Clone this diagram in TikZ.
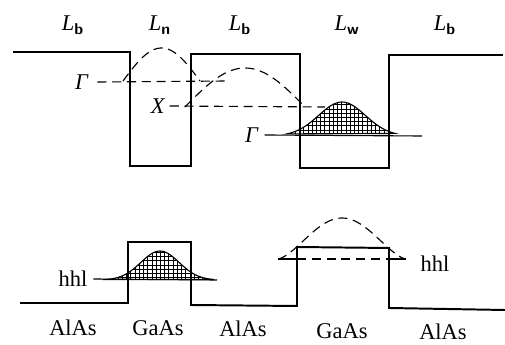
\documentclass[tikz,border=0pt]{standalone}
\usepackage{fontspec}
\setmainfont{Liberation Serif}
\usepackage{tikz}
\usetikzlibrary{patterns}

\begin{document}
\begin{tikzpicture}[x=0.25mm, y=-0.25mm,
    band/.style={line width=1.4pt, line join=miter},
    level/.style={line width=0.8pt},
    wave/.style={line width=0.8pt, dash pattern=on 6.5pt off 4pt},
    dens/.style={line width=0.8pt, pattern=grid},
    lab/.style={font=\fontsize{16}{18}\selectfont, inner sep=0pt}]
  \useasboundingbox (0,0) rectangle (505,345);

  % layer widths
  \node[lab] (lb1) at (73,25)  {\textit{L}\textsubscript{\sffamily\bfseries b}};
  \node[lab] (ln)  at (160,25) {\textit{L}\textsubscript{\sffamily\bfseries n}};
  \node[lab] (lb2) at (240,25) {\textit{L}\textsubscript{\sffamily\bfseries b}};
  \node[lab] (lw)  at (347,25) {\textit{L}\textsubscript{\sffamily\bfseries w}};
  \node[lab] (lb3) at (445,25) {\textit{L}\textsubscript{\sffamily\bfseries b}};

  % conduction band
  \draw[band] (13,52) -- (130,52) -- (130,166) -- (191,166) -- (191,54) -- (300,54)
    -- (300,168) -- (389,168) -- (389,55) -- (503,55);

  % Gamma level of the narrow well
  \node[lab] (g1) at (82,82) {\textit{Γ}};
  \draw[wave] (g1.east) ++(6pt,0) coordinate (g1s) -- (228,81);
  \draw[wave] plot[domain=123:200, samples=40] (\x, {81-33*cos(90*(\x-161.5)/38.5)});

  % X level of the barrier
  \node[lab] (xl) at (158,106) {\textit{X}};
  \draw[wave] (xl.east) ++(3pt,0) coordinate (xs) -- (325,107);
  \draw[wave] plot[domain=185:305, samples=50] (\x, {107-39*cos(90*(\x-245)/60)});

  % Gamma level of the wide well
  \node[lab] (g2) at (252,135) {\textit{Γ}};
  \draw[dens] plot[domain=287:395, samples=50] (\x, {136-34*exp(-((\x-342)/33)*((\x-342)/33))}) -- cycle;
  \draw[level] (g2.east) ++(4pt,0) coordinate (g2s) -- (422,136);

  % valence band
  \draw[band] (20,303) -- (128,303) -- (128,242) -- (191,242) -- (191,305) -- (297,306)
    -- (297,247) -- (389,248) -- (389,308) -- (505,310);

  % heavy hole, narrow well
  \node[lab] (h1) at (73,279) {hhl};
  \draw[dens] plot[domain=103:214, samples=50] (\x, {280-29*exp(-((\x-160)/27)*((\x-160)/27))}) -- cycle;
  \draw[level] (h1.east) ++(4pt,0) coordinate (h1s) -- (217,280);

  % heavy hole, wide well
  \node[lab] (h2) at (435,264) {hhl};
  \draw[wave] plot[domain=278:406, samples=50] (\x, {259-41*pow(abs(cos(90*(\x-342)/64)),1.5)});
  \draw[level] (278,259) -- (297,259);
  \draw[wave] (297,259) -- (389,259);
  \draw[level] (389,259) -- (406,259);

  % materials
  \node[lab] (m1) at (73,328)  {AlAs};
  \node[lab] (m2) at (158,328) {GaAs};
  \node[lab] (m3) at (243,329) {AlAs};
  \node[lab] (m4) at (342,331) {GaAs};
  \node[lab] (m5) at (443,332) {AlAs};
\end{tikzpicture}
\end{document}
